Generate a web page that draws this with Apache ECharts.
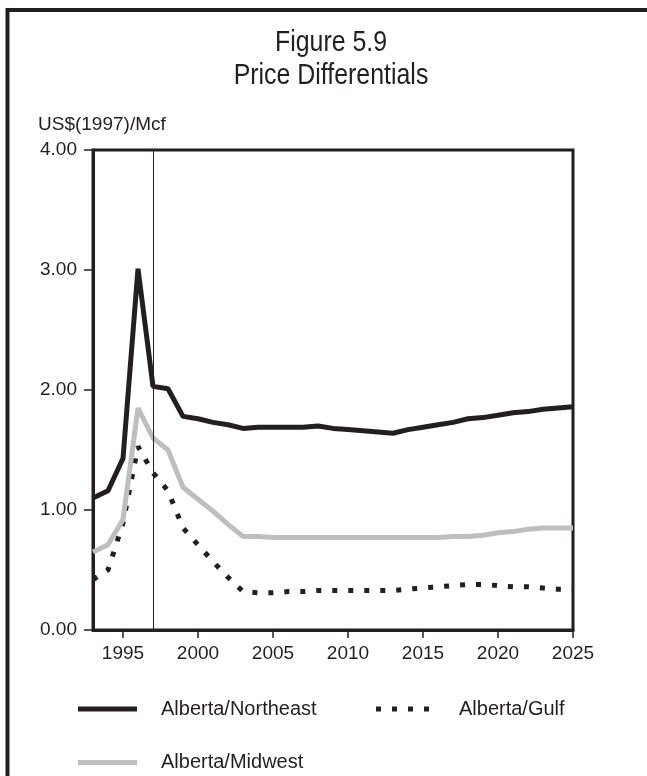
<!DOCTYPE html>
<html>
<head>
<meta charset="utf-8">
<script src="https://cdn.jsdelivr.net/npm/echarts@6/dist/echarts.min.js"></script>
<style>
html,body{margin:0;padding:0;background:#fff;}
#chart{width:647px;height:776px;}
</style>
</head>
<body>
<div id="chart"></div>
<script>
const titleLines = ['Figure 5.9', 'Price Differentials'];
const unitLabel = 'US$(1997)/Mcf';
const years = [1993,1994,1995,1996,1997,1998,1999,2000,2001,2002,2003,2004,2005,2006,2007,2008,2009,2010,2011,2012,2013,2014,2015,2016,2017,2018,2019,2020,2021,2022,2023,2024,2025];
const northeast = [1.10,1.16,1.43,3.01,2.03,2.01,1.78,1.76,1.73,1.71,1.68,1.69,1.69,1.69,1.69,1.70,1.68,1.67,1.66,1.65,1.64,1.67,1.69,1.71,1.73,1.76,1.77,1.79,1.81,1.82,1.84,1.85,1.86];
const midwest = [0.65,0.71,0.92,1.85,1.60,1.50,1.19,1.09,0.99,0.88,0.78,0.78,0.77,0.77,0.77,0.77,0.77,0.77,0.77,0.77,0.77,0.77,0.77,0.77,0.78,0.78,0.79,0.81,0.82,0.84,0.85,0.85,0.85];
const gulf = [0.42,0.50,0.89,1.53,1.31,1.16,0.85,0.71,0.57,0.44,0.32,0.31,0.31,0.32,0.32,0.33,0.33,0.33,0.33,0.33,0.33,0.34,0.35,0.36,0.37,0.38,0.38,0.37,0.36,0.36,0.35,0.34,0.34];
const seriesNames = ['Alberta/Northeast', 'Alberta/Gulf', 'Alberta/Midwest'];
const xTickYears = [1995,2000,2005,2010,2015,2020,2025];
const yTicks = [0,1,2,3,4];
const markerYear = 1997;

const INK = '#231f20';
const GREY = '#bcbec0';
const SANS = "'Liberation Sans',Arial,sans-serif";

function pairs(vals){ return years.map((y,i)=>[y, vals[i]]); }

const chart = echarts.init(document.getElementById('chart'), null, {renderer:'canvas'});
const legendBase = {
  orient:'horizontal', padding:0, selectedMode:false, itemHeight:5,
  textStyle:{color:INK, fontSize:20, fontFamily:SANS, padding:[0,0,0,19]}
};
chart.setOption({
  animation:false,
  backgroundColor:'#fff',
  grid:{left:93, right:74, top:150, bottom:146, containLabel:false, outerBoundsMode:'none',
        show:true, borderColor:INK, borderWidth:3, backgroundColor:'transparent'},
  xAxis:{
    type:'value', min:1993, max:2025,
    axisLine:{show:true, onZero:false, lineStyle:{color:INK, width:3}},
    axisTick:{show:true, customValues:xTickYears, length:8, inside:false, lineStyle:{color:INK, width:1.5}},
    axisLabel:{show:true, customValues:xTickYears, margin:14, color:INK, fontSize:19, fontFamily:SANS,
      formatter:v=>String(v)},
    splitLine:{show:false}
  },
  yAxis:{
    type:'value', min:0, max:4, interval:1,
    axisLine:{show:true, lineStyle:{color:INK, width:3}},
    axisTick:{show:true, length:9, lineStyle:{color:INK, width:1.5}},
    axisLabel:{show:true, margin:16, color:INK, fontSize:19, fontFamily:SANS, formatter:v=>v.toFixed(2)},
    splitLine:{show:false}
  },
  legend:[
    Object.assign({}, legendBase, {left:78, top:699, itemWidth:59, data:[{name:seriesNames[0], icon:'rect'}]}),
    Object.assign({}, legendBase, {left:376, top:699, itemWidth:53,
      textStyle:Object.assign({}, legendBase.textStyle, {padding:[0,0,0,25]}),
      data:[{name:seriesNames[1], icon:'path://M0,0h5v5h-5zM16,0h5v5h-5zM32,0h5v5h-5zM48,0h5v5h-5z'}]}),
    Object.assign({}, legendBase, {left:78, top:752.5, itemWidth:59, data:[{name:seriesNames[2], icon:'rect'}]})
  ],
  graphic:[
    {type:'line', shape:{x1:7.5, y1:10, x2:647, y2:10}, style:{stroke:INK, lineWidth:4}},
    {type:'line', shape:{x1:7.5, y1:8, x2:7.5, y2:776}, style:{stroke:INK, lineWidth:4}},
    {type:'text', x:331, y:26, scaleX:0.83, style:{text:titleLines.join('\n'), fill:INK, fontSize:30, lineHeight:33,
      fontFamily:SANS, align:'center', verticalAlign:'top'}},
    {type:'text', x:38, y:125, style:{text:unitLabel, fill:INK, fontSize:19, fontFamily:SANS, verticalAlign:'middle'}}
  ],
  series:[
    {name:seriesNames[1], type:'line', data:pairs(gulf), symbol:'none', color:INK,
     lineStyle:{color:INK, width:5, type:[5,11], cap:'butt'}, z:2},
    {name:seriesNames[2], type:'line', data:pairs(midwest), symbol:'none', color:GREY,
     lineStyle:{color:GREY, width:5}, z:3},
    {name:seriesNames[0], type:'line', data:pairs(northeast), symbol:'none', color:INK,
     lineStyle:{color:INK, width:5}, z:4,
     markLine:{silent:true, symbol:['none','none'], label:{show:false},
       lineStyle:{color:INK, width:1, type:'solid'}, data:[{xAxis:markerYear}]}}
  ]
});
</script>
</body>
</html>
